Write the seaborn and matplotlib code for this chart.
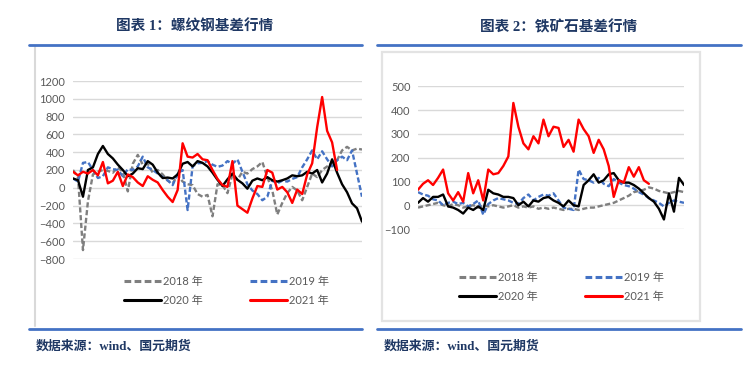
"""
Rebar and iron ore basis charts (two panels)
"""

import numpy as np
import pandas as pd
import matplotlib.pyplot as plt
import seaborn as sns
from matplotlib.lines import Line2D

# ----------------------------
# Data (one value per ~5 trading days)
# ----------------------------
years = ["2018 年", "2019 年", "2020 年", "2021 年"]

rebar_2018 = [200, 120, -700, -150, 150, 180, 200, 190, 170, 230, 180, -40, 270, 370, 260,
              270, 170, 200, 150, 80, 50, 140, 70, 40, 30, -70, -100, -80, -320, 40,
              30, -60, 150, 90, 180, 160, 210, 240, 290, 120, -30, -300, -170, -60, 10,
              -30, -140, 10, 160, 120, 200, 240, 280, 310, 420, 460, 420, 440, 430]
rebar_2019 = [105, 70, 280, 290, 200, 110, 130, 230, 210, 200, 130, 210, 200, 240, 350,
              230, 200, 160, 120, 85, 30, 160, 200, -250, 240, 275, 280, 300, 260, 235,
              250, 300, 270, 320, 180, 40, -30, -70, -140, -100, 80, 50, 80, 70, 100,
              120, 230, 320, 420, 320, 410, 320, 240, 310, 350, 310, 420, 160, -100]
rebar_2020 = [105, 85, -100, 200, 230, 380, 470, 380, 330, 260, 200, 130, 160, 220, 210,
              300, 260, 170, 110, 115, 105, 150, 270, 290, 240, 300, 280, 240, 170, 90,
              20, 95, 160, 90, 50, -10, 80, 105, 85, 120, 85, 70, 85, 105, 140,
              130, 140, 180, 160, 200, 60, 160, 320, 170, 40, -50, -175, -230, -380]
rebar_2021 = [180, 140, 180, 160, 200, 140, 290, 50, 80, 180, 20, 150, 120, 60, 20,
              130, 90, 60, -25, -100, -160, -25, 500, 350, 340, 380, 320, 310, 200, 100,
              30, 10, 300, -200, -240, -280, -120, 20, 10, 200, 170, -20, 10, -50, -170,
              -20, -70, 150, 275, 680, 1020, 640, 510, 200]

ore_2018 = [-10, -5, 0, 5, 10, 0, -5, 5, 0, -10, -5, 0, -10, 0, -5,
            0, -5, -10, -5, 0, -10, -5, -10, -5, -15, -10, -15, -10, -15, -20,
            -15, -15, -20, -15, -10, -10, -5, 0, 5, 10, 20, 30, 40, 55, 60,
            65, 75, 70, 60, 55, 50, 55, 60, 55]
ore_2019 = [55, 45, 40, 25, 20, 0, 10, 15, 5, 10, -5, 5, 20, -40, 5,
            20, 30, 25, 20, 10, 5, 30, 45, 20, 35, 45, 40, 50, 20, -10,
            -15, -20, 150, 110, 105, 95, 115, 90, 80, 110, 95, 85, 80, 70, 55,
            45, 30, 20, 10, -5, 10, 20, 15, 10]
ore_2020 = [10, 30, 15, 35, 35, 45, -5, -10, -20, -35, -10, -20, -5, -20, 65,
            50, 45, 35, 35, 30, 0, 15, -5, 20, 15, 30, 35, 20, 10, -5,
            20, 0, -5, 85, 105, 130, 95, 105, 130, 135, 105, 95, 95, 85, 70,
            50, 30, 15, -15, -60, 50, -27, 115, 85]
ore_2021 = [65, 90, 105, 85, 115, 150, 50, 20, 55, 15, 135, 50, 105, 20, 150,
            130, 135, 165, 205, 430, 330, 260, 235, 290, 260, 360, 290, 330, 325, 245,
            275, 225, 360, 320, 290, 220, 275, 235, 165, 35, 105, 95, 160, 120, 160,
            105, 90]

rebar_ticks = list(range(-800, 1201, 200))
ore_ticks = list(range(-100, 501, 100))

titles = ["图表 1：螺纹钢基差行情", "图表 2：铁矿石基差行情"]
source = "数据来源：wind、国元期货"

# ----------------------------
# Style
# ----------------------------
sns.set_style("white")
plt.rcParams["font.family"] = ["Lato", "Noto Sans CJK SC", "DejaVu Sans"]

colors = {"2018 年": "#7F7F7F", "2019 年": "#4472C4", "2020 年": "#000000", "2021 年": "#FF0000"}
dashed = {"2018 年": True, "2019 年": True, "2020 年": False, "2021 年": False}
navy = "#1F3864"
rule_blue = "#4472C4"
tick_grey = "#595959"

W, H = 754, 366
fig = plt.figure(figsize=(W / 100, H / 100), dpi=100)


def fx(px):
    return px / W


def fy(py):
    return 1 - py / H


def draw_panel(rect, series, ticks, ylim, xmax):
    ax = fig.add_axes(rect)
    for name, vals in zip(years, series):
        df = pd.DataFrame({"day": np.arange(len(vals)), "basis": vals})
        sns.lineplot(data=df, x="day", y="basis", ax=ax, color=colors[name],
                     linewidth=1.7, label=name, legend=False)
        if dashed[name]:
            ax.lines[-1].set_dashes([2.2, 1.1])
    ax.set_xlim(0, xmax)
    ax.set_ylim(*ylim)
    ax.set_yticks(ticks)
    ax.set_xticks([])
    ax.set_xlabel("")
    ax.set_ylabel("")
    ax.grid(axis="y", color="#D9D9D9", linewidth=1)
    ax.set_axisbelow(True)
    for s in ax.spines.values():
        s.set_visible(False)
    ax.tick_params(axis="y", length=0, pad=5.5, labelsize=8, labelcolor=tick_grey)
    return ax


ax1 = draw_panel([fx(73), fy(259), fx(289), (259 - 81) / H],
                 [rebar_2018, rebar_2019, rebar_2020, rebar_2021],
                 rebar_ticks, (-800, 1200), 58)
ax2 = draw_panel([fx(418), fy(229), fx(266), (229 - 86.3) / H],
                 [ore_2018, ore_2019, ore_2020, ore_2021],
                 ore_ticks, (-100, 500), 53)


def add_legend(x, y):
    order = ["2018 年", "2020 年", "2019 年", "2021 年"]
    handles = []
    for name in order:
        h = Line2D([0], [0], color=colors[name], linewidth=2.2)
        if dashed[name]:
            h.set_dashes([2.2, 1.1])
        handles.append(h)
    fig.legend(handles, order, ncol=2, loc="upper left", bbox_to_anchor=(fx(x), fy(y)),
               frameon=False, fontsize=8, labelcolor=tick_grey, handlelength=3.3,
               handletextpad=0.25, columnspacing=4.2, labelspacing=0.75, borderpad=0,
               borderaxespad=0)


add_legend(124, 276)
add_legend(459, 272)

# ----------------------------
# Frames, rules and headings
# ----------------------------
fig.add_artist(Line2D([fx(35), fx(35)], [fy(46), fy(326)], color="#D9D9D9", linewidth=1.5))
fig.add_artist(plt.Rectangle((fx(382), fy(321)), fx(700 - 382), (321 - 52) / H,
                             fill=False, edgecolor="#E3E3E3", linewidth=1.6))
for x0, x1 in [(29, 362), (377, 741)]:
    fig.add_artist(Line2D([fx(x0), fx(x1)], [fy(44.5), fy(44.5)], color=rule_blue, linewidth=2))
    fig.add_artist(Line2D([fx(x0), fx(x1)], [fy(328.5), fy(328.5)], color=rule_blue, linewidth=2))

head_font = ["Liberation Serif", "Noto Sans CJK SC"]
fig.text(fx(195), fy(27), titles[0], ha="center", va="center", fontsize=10.5,
         fontweight="bold", color=navy, family=head_font)
fig.text(fx(559), fy(27), titles[1], ha="center", va="center", fontsize=10.5,
         fontweight="bold", color=navy, family=head_font)
fig.text(fx(36), fy(346), source, ha="left", va="center", fontsize=9.3,
         fontweight="bold", color=navy, family=head_font)
fig.text(fx(384), fy(346), source, ha="left", va="center", fontsize=9.3,
         fontweight="bold", color=navy, family=head_font)

plt.savefig("out.png", dpi=100)
plt.close()
print("Saved: out.png")
